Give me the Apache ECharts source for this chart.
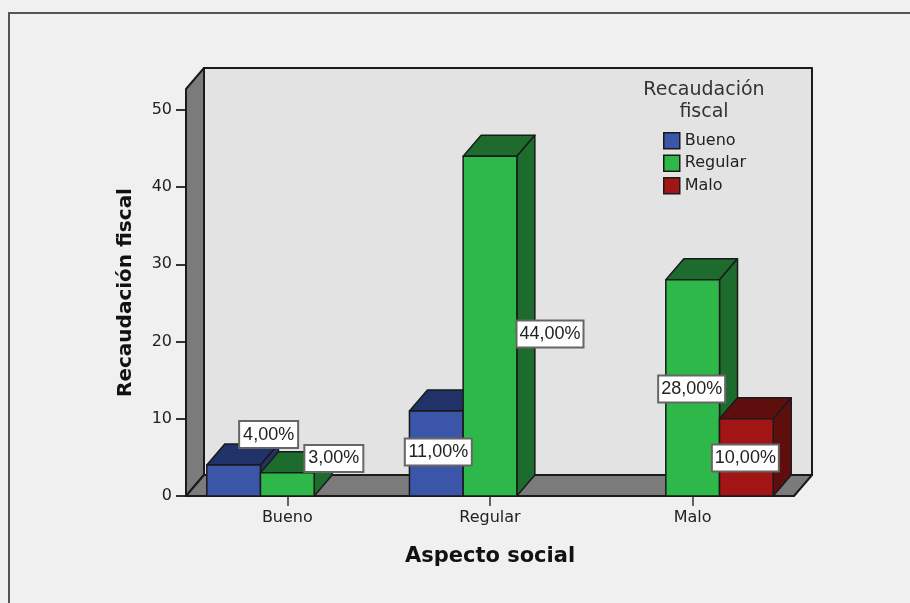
<!DOCTYPE html>
<html><head><meta charset="utf-8">
<style>html,body{margin:0;padding:0;background:#f0f0f0}#c{width:910px;height:603px}</style>
<script src="https://cdn.jsdelivr.net/npm/echarts@6/dist/echarts.min.js"></script>
</head><body><div id="c"></div>
<script>
const categories = ['Bueno','Regular','Malo'];
const seriesNames = ['Bueno','Regular','Malo'];
const bueno = [4, 11, null];
const regular = [3, 44, 28];
const malo = [null, null, 10];
const yTicks = [0,10,20,30,40,50];
const colors = {
  Bueno:  {front:'#3B55A8', top:'#213268', side:'#213268'},
  Regular:{front:'#2EB84A', top:'#1E6B2E', side:'#1E6B2E'},
  Malo:   {front:'#A31515', top:'#5F0E0E', side:'#5F0E0E'}
};
const DX = 18, DY = -21, LINE = '#1a1a1a';
const FONT = '"DejaVu Sans", sans-serif';

const chart = echarts.init(document.getElementById('c'), null, {renderer:'canvas'});

function walls(params, api){
  const o = api.coord([0,0]);
  const t = api.coord([0,52.7]);
  const x0 = params.coordSys.x, x1 = x0 + params.coordSys.width;
  const y0 = o[1], yt = t[1];
  const st = {stroke:LINE, lineWidth:2, lineJoin:'round'};
  const poly = (pts, fill) => ({type:'polygon', shape:{points:pts}, style:Object.assign({fill}, st)});
  return {type:'group', children:[
    poly([[x0+DX,yt+DY],[x1+DX,yt+DY],[x1+DX,y0+DY],[x0+DX,y0+DY]], '#E3E3E3'),
    poly([[x0,yt],[x0+DX,yt+DY],[x0+DX,y0+DY],[x0,y0]], '#7B7B7B'),
    poly([[x0,y0],[x0+DX,y0+DY],[x1+DX,y0+DY],[x1,y0]], '#7B7B7B')
  ]};
}
function bar3d(name, idx){
  return function(params, api){
    const v = api.value(1);
    if (v == null || isNaN(v)) return;
    const c = api.coord([api.value(0), 0]);
    const top = api.coord([api.value(0), v]);
    const w = 53.7;
    const xl = c[0] + (idx-1.5)*w, xr = xl + w;
    const yb = c[1], yt = top[1];
    const col = colors[name];
    const st = {stroke:LINE, lineWidth:1.5, lineJoin:'round'};
    const poly = (pts, fill) => ({type:'polygon', shape:{points:pts}, style:Object.assign({fill}, st)});
    return {type:'group', children:[
      poly([[xl,yt],[xl+DX,yt+DY],[xr+DX,yt+DY],[xr,yt]], col.top),
      poly([[xr,yt],[xr+DX,yt+DY],[xr+DX,yb+DY],[xr,yb]], col.side),
      poly([[xl,yt],[xr,yt],[xr,yb],[xl,yb]], col.front)
    ]};
  };
}
const labels = [
  {s:0,c:0,v:bueno[0],  dx:35,  dy:-46},
  {s:1,c:0,v:regular[0],dx:46.5,dy:-26},
  {s:0,c:1,v:bueno[1],  dx:2,   dy:-1.5},
  {s:1,c:1,v:regular[1],dx:60,  dy:8},
  {s:1,c:2,v:regular[2],dx:-1,  dy:1},
  {s:2,c:2,v:malo[2],   dx:-1,  dy:0.5}
];
function labelItem(params, api){
  const l = labels[params.dataIndex];
  const c = api.coord([l.c, 0]);
  const top = api.coord([l.c, l.v]);
  const w = 53.7;
  const cx = c[0] + (l.s-1)*w + l.dx;
  const cy = (c[1]+top[1])/2 + l.dy;
  const text = l.v.toFixed(2).replace('.',',') + '%';
  const bw = text.length > 5 ? 67 : 59;
  return {type:'rect', x:cx, y:cy, z2:100,
    shape:{x:-bw/2,y:-13.5,width:bw,height:27},
    style:{fill:'#fff', stroke:'#666', lineWidth:2},
    textContent:{type:'text', z2:101, style:{text, fontSize:18, fontFamily:'"Liberation Sans", Arial, sans-serif', fill:'#222'}},
    textConfig:{position:'inside', inside:false}
  };
}
const mk = (name, idx, vals) => ({
  name, type:'custom', z:5+idx, renderItem:bar3d(name, idx),
  data: vals.map((v,i)=>[i,v]), encode:{x:0,y:1}, silent:true
});
chart.setOption({
  animation:false,
  backgroundColor:'#f0f0f0',
  grid:{left:186, right:116, top:89, bottom:107, show:false},
  title:{text:'Recaudación\nfiscal', left:699, top:74, textAlign:'center',
    textStyle:{fontSize:19, fontWeight:'normal', color:'#333', fontFamily:FONT, lineHeight:22}},
  legend:{orient:'vertical', left:658, top:127, itemWidth:16, itemHeight:16, itemGap:5, selectedMode:false,
    data:seriesNames.map(n=>({name:n, icon:'rect', itemStyle:{color:colors[n].front, borderColor:LINE, borderWidth:1.5}})),
    formatter:n=>n, textStyle:{fontSize:16, color:'#222', fontFamily:FONT}},
  xAxis:{type:'category', data:categories, name:'Aspecto social', nameLocation:'middle', nameGap:50,
    nameTextStyle:{fontSize:21, fontWeight:'bold', color:'#111', fontFamily:FONT},
    axisLine:{show:false}, axisTick:{show:true, alignWithLabel:true, length:10, lineStyle:{color:'#333', width:1.5}},
    axisLabel:{fontSize:16, color:'#222', margin:14, fontFamily:FONT}, z:1},
  yAxis:{type:'value', min:0, max:52.7, interval:10, name:'Recaudación fiscal', nameLocation:'middle', nameGap:50,
    nameTextStyle:{fontSize:20, fontWeight:'bold', color:'#111', fontFamily:FONT},
    axisLine:{show:false}, splitLine:{show:false},
    axisTick:{show:true, length:10, customValues:yTicks, lineStyle:{color:'#333', width:2}},
    axisLabel:{fontSize:16, color:'#222', margin:14, fontFamily:FONT, customValues:yTicks}},
  graphic:[
    {type:'polyline', z:-1, silent:true, shape:{points:[[9,603],[9,13],[910,13]]}, style:{stroke:'#555', lineWidth:2, fill:null}}
  ],
  series:[
    {type:'custom', name:'_walls', z:1, renderItem:walls, data:[[0,0]], encode:{x:0,y:1}, silent:true},
    mk('Bueno',0,bueno), mk('Regular',1,regular), mk('Malo',2,malo),
    {type:'custom', name:'_labels', z:50, renderItem:labelItem, data:labels.map(l=>[l.c,l.v]), encode:{x:0,y:1}, silent:true}
  ]
});
</script></body></html>
